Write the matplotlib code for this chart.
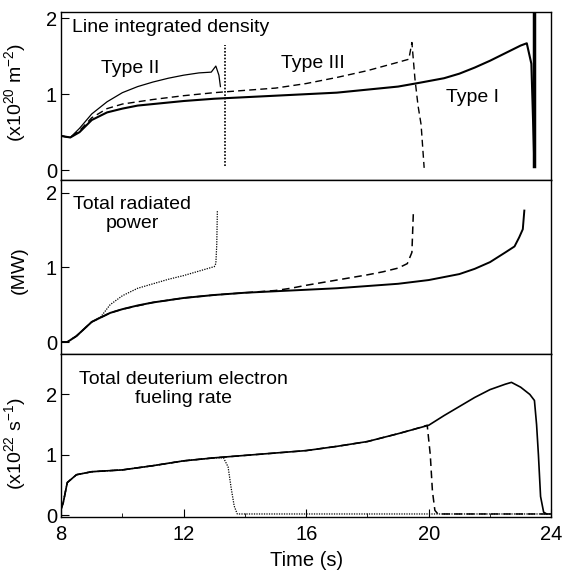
import numpy as np
import matplotlib.pyplot as plt
from matplotlib.ticker import MultipleLocator

plt.rcParams['font.family'] = ['Liberation Sans', 'DejaVu Sans']
plt.rcParams['mathtext.fontset'] = 'custom'
plt.rcParams['mathtext.rm'] = 'Liberation Sans'
plt.rcParams['mathtext.it'] = 'Liberation Sans:italic'

# Line integrated density (x1e20 m^-2)
t1_I = [8.0, 8.3, 8.6, 9.0, 9.5, 10.0, 10.5, 11.0, 12.0, 13.0, 14.0, 15.0, 16.0, 17.0, 18.0,
        19.0, 19.7, 20.5, 21.0, 21.5, 22.0, 22.5, 23.0, 23.2, 23.35, 23.45]
n_I = [0.45, 0.43, 0.50, 0.66, 0.76, 0.81, 0.85, 0.87, 0.91, 0.94, 0.96, 0.98, 1.00, 1.02, 1.06,
       1.10, 1.15, 1.21, 1.27, 1.35, 1.44, 1.54, 1.64, 1.67, 1.40, 0.05]
t1_II = [8.0, 8.3, 8.6, 9.0, 9.5, 10.0, 10.5, 11.0, 11.5, 12.0, 12.5, 12.9, 13.05, 13.15, 13.2]
n_II = [0.45, 0.43, 0.55, 0.74, 0.90, 1.02, 1.10, 1.16, 1.21, 1.25, 1.28, 1.29, 1.37, 1.25, 1.10]
t1_III = [8.0, 8.3, 8.6, 9.0, 9.5, 10.0, 11.0, 12.0, 13.0, 14.0, 15.0, 16.0, 17.0, 18.0, 19.0,
          19.35, 19.45, 19.55, 19.65, 19.75, 19.85]
n_III = [0.45, 0.43, 0.52, 0.69, 0.81, 0.87, 0.93, 0.98, 1.02, 1.05, 1.08, 1.14, 1.22, 1.31, 1.42,
         1.46, 1.68, 1.20, 0.85, 0.60, 0.03]
# spikes at the end of each discharge
spike_II_t = [13.36, 13.36]
spike_II_n = [0.05, 1.65]
spike_I_t = [23.42, 23.42]
spike_I_n = [0.05, 2.08]

# Total radiated power (MW)
t2_I = [8.0, 8.2, 8.5, 9.0, 9.3, 9.6, 10.0, 10.5, 11.0, 12.0, 13.0, 14.0, 15.0, 16.0, 17.0, 18.0,
        19.0, 20.0, 20.5, 21.0, 21.5, 22.0, 22.5, 22.8, 22.95, 23.07, 23.12]
P_I = [0.0, 0.0, 0.08, 0.27, 0.33, 0.39, 0.44, 0.49, 0.53, 0.59, 0.63, 0.66, 0.68, 0.70, 0.72, 0.75,
       0.78, 0.83, 0.87, 0.91, 0.98, 1.07, 1.20, 1.28, 1.40, 1.51, 1.76]
t2_II = [8.0, 8.2, 8.5, 9.0, 9.3, 9.6, 10.0, 10.5, 11.0, 11.5, 12.0, 12.5, 13.0, 13.05, 13.08, 13.1]
P_II = [0.0, 0.0, 0.08, 0.27, 0.34, 0.50, 0.62, 0.72, 0.78, 0.84, 0.89, 0.95, 1.01, 1.05, 1.3, 1.76]
t2_III = [8.0, 8.2, 8.5, 9.0, 9.3, 9.6, 10.0, 11.0, 12.0, 13.0, 14.0, 15.0, 15.5, 16.0, 17.0, 18.0,
          18.5, 19.0, 19.3, 19.45, 19.5]
P_III = [0.0, 0.0, 0.08, 0.27, 0.33, 0.39, 0.44, 0.53, 0.59, 0.63, 0.66, 0.69, 0.72, 0.76, 0.83, 0.90,
         0.94, 0.99, 1.05, 1.20, 1.76]

# Total deuterium electron fueling rate (x1e22 s^-1)
t3_I = [8.0, 8.07, 8.2, 8.5, 9.0, 10.0, 11.0, 12.0, 13.0, 14.0, 15.0, 16.0, 17.0, 18.0, 19.0,
        20.0, 20.5, 21.0, 21.5, 22.0, 22.5, 22.7, 23.0, 23.3, 23.45, 23.52, 23.58, 23.65, 23.75,
        23.85, 24.0]
F_I = [0.10, 0.21, 0.54, 0.67, 0.72, 0.75, 0.82, 0.90, 0.95, 0.99, 1.03, 1.07, 1.14, 1.22, 1.35,
       1.49, 1.65, 1.80, 1.95, 2.08, 2.17, 2.20, 2.12, 2.00, 1.90, 1.50, 1.00, 0.31, 0.05,
       0.02, 0.02]
t3_II = [8.0, 8.07, 8.2, 8.5, 9.0, 10.0, 11.0, 12.0, 13.0, 13.3, 13.45, 13.55, 13.65, 13.75, 24.0]
F_II = [0.10, 0.21, 0.54, 0.67, 0.72, 0.75, 0.82, 0.90, 0.95, 0.95, 0.80, 0.45, 0.15, 0.02, 0.02]
t3_III = [8.0, 8.07, 8.2, 8.5, 9.0, 10.0, 11.0, 12.0, 13.0, 14.0, 15.0, 16.0, 17.0, 18.0, 19.0,
          19.5, 19.95, 20.05, 20.12, 20.2, 20.3, 24.0]
F_III = [0.10, 0.21, 0.54, 0.67, 0.72, 0.75, 0.82, 0.90, 0.95, 0.99, 1.03, 1.07, 1.14, 1.22, 1.35,
         1.42, 1.49, 1.00, 0.40, 0.08, 0.02, 0.02]

fig = plt.figure(figsize=(5.66, 5.77), dpi=100)
ax1 = fig.add_axes([0.108, 0.688, 0.866, 0.291])
ax2 = fig.add_axes([0.108, 0.3865, 0.866, 0.3016])
ax3 = fig.add_axes([0.108, 0.104, 0.866, 0.2825])

k = 'black'
dash = (0, (5, 3))
dot = (0, (1, 1))

ax1.plot(t1_I, n_I, color=k, lw=1.5)
ax1.plot(t1_II, n_II, color=k, lw=0.9)
ax1.plot(t1_III, n_III, color=k, lw=1.0, ls=dash)
ax1.plot(spike_II_t, spike_II_n, color=k, lw=1.2, ls=dot)
ax1.plot(spike_I_t, spike_I_n, color=k, lw=2.5)
ax1.set_ylim(-0.13, 2.08)

ax2.plot(t2_I, P_I, color=k, lw=1.4)
ax2.plot(t2_II, P_II, color=k, lw=0.9, ls=dot)
ax2.plot(t2_III, P_III, color=k, lw=1.1, ls=dash)
ax2.set_ylim(-0.16, 2.17)

ax3.plot(t3_I, F_I, color=k, lw=1.2)
ax3.plot(t3_II, F_II, color=k, lw=0.9, ls=dot)
ax3.plot(t3_III, F_III, color=k, lw=1.1, ls=dash)
ax3.set_ylim(-0.03, 2.67)

for ax in (ax1, ax2, ax3):
    ax.set_xlim(8, 24)
    ax.set_yticks([0, 1, 2])
    ax.tick_params(axis='y', direction='in', length=6, pad=3, labelsize=14.5)
    for s in ax.spines.values():
        s.set_linewidth(1.0)

for ax in (ax1, ax2):
    ax.tick_params(axis='x', bottom=False, labelbottom=False)

ax3.set_xticks([8, 12, 16, 20, 24])
ax3.xaxis.set_minor_locator(MultipleLocator(2))
ax3.tick_params(axis='x', which='major', direction='in', length=6, pad=6, labelsize=14.5)
ax3.tick_params(axis='x', which='minor', direction='in', length=3)
ax3.set_xlabel('Time (s)', fontsize=14.5, labelpad=5)

ax1.set_ylabel('(x10$^{20}$ m$^{-2}$)', fontsize=14)
ax2.set_ylabel('(MW)', fontsize=14)
ax3.set_ylabel('(x10$^{22}$ s$^{-1}$)', fontsize=14)
ax1.yaxis.set_label_coords(-0.068, 0.52)
ax2.yaxis.set_label_coords(-0.068, 0.48)
ax3.yaxis.set_label_coords(-0.068, 0.45)

fs = 14
ax1.text(0.022, 0.91, 'Line integrated density', transform=ax1.transAxes, fontsize=fs, va='center')
ax1.text(0.141, 0.667, 'Type II', transform=ax1.transAxes, fontsize=fs, ha='center', va='center')
ax1.text(0.514, 0.696, 'Type III', transform=ax1.transAxes, fontsize=fs, ha='center', va='center')
ax1.text(0.839, 0.494, 'Type I', transform=ax1.transAxes, fontsize=fs, ha='center', va='center')
ax2.text(0.145, 0.805, 'Total radiated\npower', transform=ax2.transAxes, fontsize=fs,
         ha='center', va='center', multialignment='center', linespacing=1.1)
ax3.text(0.249, 0.785, 'Total deuterium electron\nfueling rate', transform=ax3.transAxes,
         fontsize=fs, ha='center', va='center', multialignment='center', linespacing=1.1)

fig.savefig('out.png', dpi=100)
